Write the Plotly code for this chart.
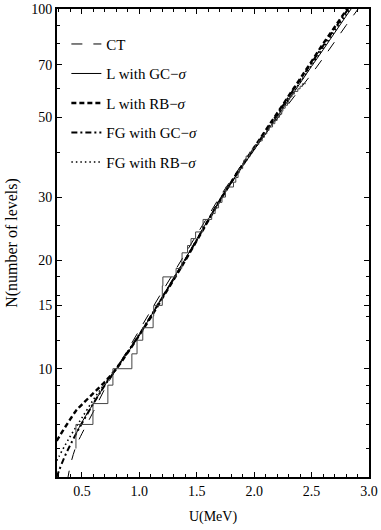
import plotly.graph_objects as go
import math

# energy grid (MeV) for the model curves
u = [0.28, 0.30, 0.35, 0.40, 0.45, 0.50, 0.60, 0.70, 0.80, 0.90, 1.00,
     1.10, 1.20, 1.30, 1.40, 1.50, 1.60, 1.70, 1.80, 1.90, 2.00,
     2.10, 2.20, 2.30, 2.40, 2.50, 2.60, 2.70, 2.80, 2.90, 3.00]

n_ct = [3.2, 3.6, 4.4, 5.4, 6.1, 6.6, 7.6, 8.8, 10.0, 11.3, 12.8,
        14.5, 16.4, 18.5, 20.9, 23.6, 26.6, 30.0, 33.5, 37.2, 41.0,
        45.0, 49.5, 54.5, 60.0, 66.0, 73.0, 81.0, 90.0, 99.5, 110]
n_l_gc = [None, None, None, None, 6.6, 7.1, 8.0, 9.0, 10.0, 11.1, 12.4,
          14.0, 15.8, 17.9, 20.2, 22.9, 26.0, 29.4, 32.9, 36.6, 40.6,
          45.1, 50.2, 55.9, 62.2, 69.3, 77.0, 85.8, 95.5, 106, 118]
n_l_rb = [6.3, 6.45, 6.85, 7.25, 7.65, 7.95, 8.55, 9.2, 10.0, 11.1, 12.4,
          13.9, 15.7, 17.7, 20.0, 22.7, 25.8, 29.3, 33.0, 36.9, 41.2,
          46.0, 51.3, 57.3, 64.0, 71.5, 80.0, 89.0, 99.0, 110, 122]
n_fg_gc = [5.0, 5.2, 5.7, 6.15, 6.6, 7.05, 8.0, 9.0, 10.0, 11.15, 12.45,
           14.0, 15.8, 17.8, 20.1, 22.8, 25.9, 29.4, 33.0, 36.9, 41.0,
           45.7, 51.0, 56.9, 63.5, 70.8, 79.0, 88.0, 98.0, 109, 121]
n_fg_rb = [5.55, 5.7, 6.1, 6.5, 6.9, 7.3, 8.2, 9.1, 10.05, 11.15, 12.45,
           14.0, 15.8, 17.8, 20.1, 22.8, 25.8, 29.2, 32.8, 36.6, 40.7,
           45.3, 50.4, 56.2, 62.6, 69.8, 77.8, 86.8, 96.5, 107, 119]

# experimental cumulative levels (staircase)
level_u = [0.448, 0.448, 0.596, 0.726, 0.770, 0.935, 0.980, 1.030, 1.120, 1.125,
           1.200, 1.200, 1.205, 1.320, 1.370, 1.372, 1.420, 1.450, 1.490, 1.550,
           1.555, 1.630, 1.660, 1.690, 1.720, 1.750, 1.752, 1.820, 1.840, 1.860,
           1.870, 1.900, 1.910, 1.930, 1.960, 1.985, 2.010, 2.040, 2.070, 2.090,
           2.110, 2.130, 2.160, 2.180, 2.200, 2.220, 2.240, 2.250, 2.270, 2.290,
           2.300, 2.310, 2.330, 2.350, 2.380, 2.400, 2.420, 2.450]
level_n = [6, 7, 8, 9, 10, 11, 12, 13, 14, 15,
           16, 17, 18, 19, 20, 21, 22, 23, 24, 25,
           26, 27, 28, 29, 30, 31, 32, 33, 34, 35,
           36, 37, 38, 39, 40, 41, 42, 43, 44, 45,
           46, 47, 48, 49, 50, 51, 52, 53, 54, 55,
           56, 57, 58, 59, 60, 61, 62, 62]

y_ticks = [10, 15, 20, 30, 50, 70, 100]
y_minor = [6, 7, 8, 9, 12, 14, 16, 18, 25, 40, 60, 80, 90]
x_ticks = [0.5, 1.0, 1.5, 2.0, 2.5, 3.0]

FONT = "Liberation Serif"

fig = go.Figure()

curves = [
    ("CT", n_ct, dict(color="black", width=1, dash="11px,11px")),
    ("L with GC\u2212<i>\u03c3</i>", n_l_gc, dict(color="black", width=1)),
    ("L with RB\u2212<i>\u03c3</i>", n_l_rb, dict(color="black", width=2.4, dash="5px,3px")),
    ("FG with GC\u2212<i>\u03c3</i>", n_fg_gc, dict(color="black", width=2, dash="6px,3px,2px,3px")),
    ("FG with RB\u2212<i>\u03c3</i>", n_fg_rb, dict(color="black", width=1.6, dash="1.5px,3px")),
]
for i, (name, vals, line) in enumerate(curves):
    fig.add_trace(go.Scatter(x=u, y=vals, mode="lines", name=name, line=line,
                             line_shape="spline", connectgaps=False,
                             legendgroup=f"g{i}"))

fig.add_trace(go.Scatter(x=level_u, y=level_n, mode="lines", line_shape="hv",
                         line=dict(color="#444444", width=1), showlegend=False,
                         legendgroup="steps"))

axis_common = dict(
    showline=True, linecolor="black", linewidth=2, mirror="allticks",
    ticks="inside", ticklen=5, tickwidth=1.2, tickcolor="black",
    showgrid=False, zeroline=False, automargin=False,
    tickfont=dict(family=FONT, size=14, color="black"),
)

fig.update_xaxes(range=[0.283, 3.0], tickvals=x_ticks,
                 ticktext=[f"{v:.1f}" for v in x_ticks],
                 minor=dict(dtick=0.1, tick0=0, ticks="inside", ticklen=3,
                            tickcolor="black", showgrid=False),
                 title_text="U(MeV)", title_standoff=13,
                 title_font=dict(family=FONT, size=14, color="black"),
                 **axis_common)
fig.update_yaxes(type="log", range=[math.log10(5), 2], tickvals=y_ticks,
                 ticktext=[str(v) for v in y_ticks],
                 minor=dict(tickvals=y_minor, ticks="inside", ticklen=3,
                            tickcolor="black", showgrid=False),
                 title_text="N(number of levels)", title_standoff=10,
                 title_font=dict(family=FONT, size=16, color="black"),
                 **axis_common)

fig.update_layout(
    width=381, height=530,
    margin=dict(l=57, r=12, t=9, b=53),
    plot_bgcolor="white", paper_bgcolor="white",
    font=dict(family=FONT, color="black"),
    legend=dict(x=0.03, y=0.96, xanchor="left", yanchor="top",
                bgcolor="rgba(0,0,0,0)", font=dict(family=FONT, size=15, color="black"),
                tracegroupgap=7, itemwidth=30),
)

# drop the browser's default body margin so the figure sits at the page corner
fig.write_html("out.html", config={"displayModeBar": False},
               post_script="document.body.style.margin='0';")
